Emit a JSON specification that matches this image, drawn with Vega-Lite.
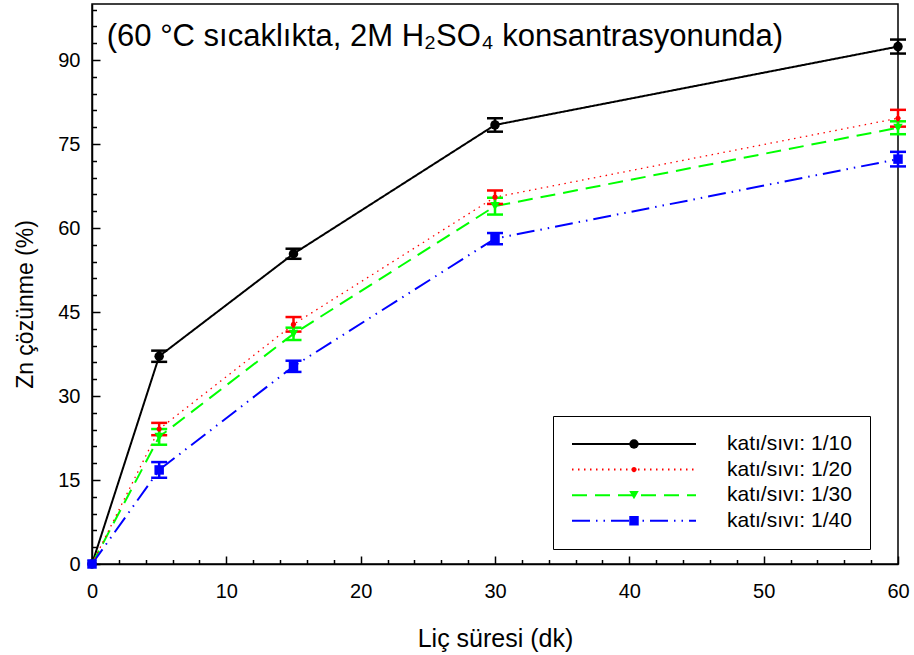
{
  "$schema": "https://vega.github.io/schema/vega-lite/v6.json",
  "width": 806,
  "height": 560,
  "autosize": {"type": "none"},
  "padding": {"left": 92, "top": 4, "right": 16, "bottom": 91},
  "background": "white",
  "config": {
    "font": "Liberation Sans",
    "view": {"stroke": "black", "strokeWidth": 1.5},
    "axis": {"grid": false, "domainColor": "black", "domainWidth": 1.5, "tickColor": "black", "tickWidth": 1.5, "labelColor": "black", "titleColor": "black", "labelFontSize": 20, "titleFontWeight": "normal", "labelOverlap": false, "labelFlush": false}
  },
  "datasets": {
    "zn": [
      {"series": "1/10", "x": 0, "y": 0, "err": 0},
      {"series": "1/10", "x": 5, "y": 37.1, "err": 1.0},
      {"series": "1/10", "x": 15, "y": 55.4, "err": 0.9},
      {"series": "1/10", "x": 30, "y": 78.4, "err": 1.2},
      {"series": "1/10", "x": 60, "y": 92.4, "err": 1.25},
      {"series": "1/20", "x": 0, "y": 0, "err": 0},
      {"series": "1/20", "x": 5, "y": 24.1, "err": 1.1},
      {"series": "1/20", "x": 15, "y": 42.8, "err": 1.3},
      {"series": "1/20", "x": 30, "y": 65.5, "err": 1.2},
      {"series": "1/20", "x": 60, "y": 79.6, "err": 1.5},
      {"series": "1/30", "x": 0, "y": 0, "err": 0},
      {"series": "1/30", "x": 5, "y": 22.7, "err": 1.4},
      {"series": "1/30", "x": 15, "y": 41.1, "err": 1.1},
      {"series": "1/30", "x": 30, "y": 63.9, "err": 1.5},
      {"series": "1/30", "x": 60, "y": 77.9, "err": 1.15},
      {"series": "1/40", "x": 0, "y": 0, "err": 0},
      {"series": "1/40", "x": 5, "y": 16.8, "err": 1.4},
      {"series": "1/40", "x": 15, "y": 35.3, "err": 1.0},
      {"series": "1/40", "x": 30, "y": 58.1, "err": 1.0},
      {"series": "1/40", "x": 60, "y": 72.3, "err": 1.3}
    ]
  },
  "encoding": {
    "x": {
      "field": "x", "type": "quantitative",
      "scale": {"domain": [0, 60], "nice": false},
      "axis": {
        "values": [0,2,4,6,8,10,12,14,16,18,20,22,24,26,28,30,32,34,36,38,40,42,44,46,48,50,52,54,56,58,60],
        "labelExpr": "datum.value % 10 === 0 ? datum.label : ''",
        "tickSize": {"condition": {"test": "datum.value % 10 === 0", "value": -8}, "value": -4.5},
        "labelPadding": 25,
        "title": "Liç süresi (dk)",
        "titleFontSize": 25,
        "titleY": 82,
        "titleBaseline": "alphabetic"
      }
    },
    "y": {
      "field": "y", "type": "quantitative",
      "scale": {"domain": [0, 100], "nice": false},
      "axis": {
        "values": [0,3,6,9,12,15,18,21,24,27,30,33,36,39,42,45,48,51,54,57,60,63,66,69,72,75,78,81,84,87,90,93,96,99],
        "labelExpr": "datum.value % 15 === 0 ? datum.label : ''",
        "tickSize": {"condition": {"test": "datum.value % 15 === 0", "value": -8}, "value": -4.5},
        "labelPadding": 20,
        "title": "Zn çözünme (%)",
        "titleFontSize": 23,
        "titleX": -60,
        "titleY": 300,
        "titleBaseline": "alphabetic",
        "titleAlign": "center"
      }
    }
  },
  "layer": [
    {
      "data": {"name": "zn"},
      "transform": [{"filter": "datum.series !== '1/20'"}],
      "mark": {"type": "line", "strokeWidth": 2},
      "encoding": {
        "color": {
          "field": "series", "type": "nominal",
          "scale": {"domain": ["1/10", "1/20", "1/30", "1/40"], "range": ["#000000", "#ff0000", "#00ff00", "#0000ff"]},
          "legend": {
            "title": null,
            "orient": "none",
            "legendX": 461,
            "legendY": 412,
            "zindex": 0,
            "padding": 18,
            "strokeColor": "black",
            "fillColor": "white",
            "symbolType": "stroke",
            "symbolSize": 15376,
            "symbolStrokeWidth": 2,
            "clipHeight": 20,
            "rowPadding": 4.6,
            "labelOffset": 30,
            "labelFontSize": 21,
            "labelFont": "Liberation Sans",
            "labelColor": "black",
            "labelLimit": 300,
            "labelExpr": "'katı/sıvı: ' + datum.label",
            "encode": {
              "symbols": {
                "update": {
                  "stroke": {"value": {"expr": "scale('color', datum.value)"}},
                  "fill": {"value": "transparent"},
                  "opacity": {"value": 1}
                }
              }
            }
          }
        },
        "strokeDash": {"field": "series", "type": "nominal", "scale": {"domain": ["1/10", "1/20", "1/30", "1/40"], "range": [[1, 0], [1.5, 4.5], [15, 8], [18, 6, 1.5, 6, 1.5, 6]]}}
      }
    },
    {
      "data": {"name": "zn"},
      "transform": [{"filter": "datum.series === '1/20'"}],
      "mark": {"type": "line", "strokeWidth": 1.3},
      "encoding": {
        "color": {"field": "series", "type": "nominal"},
        "strokeDash": {"field": "series", "type": "nominal"}
      }
    },
    {
      "data": {"name": "zn"},
      "transform": [{"filter": "datum.x > 0"}],
      "mark": {"type": "errorbar", "ticks": {"opacity": 1}, "rule": {"opacity": 1}, "opacity": 1, "size": 16, "thickness": 2.5},
      "encoding": {
        "yError": {"field": "err"},
        "color": {"field": "series", "type": "nominal"}
      }
    },
    {
      "data": {"name": "zn"},
      "mark": {"type": "point", "filled": true, "size": 90, "opacity": 1, "strokeWidth": 0},
      "encoding": {
        "fill": {
          "field": "series", "type": "nominal",
          "scale": {"range": ["#000000", "#ff0000", "#00ff00", "#0000ff"]},
          "legend": {
            "title": null,
            "orient": "none",
            "legendX": 513.5,
            "legendY": 412,
            "zindex": 1,
            "padding": 18,
            "strokeColor": "transparent",
            "fillColor": "transparent",
            "symbolSize": 90,
            "symbolStrokeWidth": 0,
            "clipHeight": 20,
            "rowPadding": 4.6,
            "labelFontSize": 21,
            "labelExpr": "''"
          }
        },
        "shape": {
          "field": "series", "type": "nominal",
          "scale": {"range": ["circle", "M-0.55,0 A0.55,0.55 0 1 0 0.55,0 A0.55,0.55 0 1 0 -0.55,0 Z", "triangle-down", "square"]},
          "legend": {
            "title": null,
            "orient": "none",
            "legendX": 513.5,
            "legendY": 412,
            "zindex": 1,
            "padding": 18,
            "strokeColor": "transparent",
            "fillColor": "transparent",
            "symbolSize": 90,
            "symbolStrokeWidth": 0,
            "clipHeight": 20,
            "rowPadding": 4.6,
            "labelFontSize": 21,
            "labelExpr": "''"
          }
        }
      }
    },
    {
      "data": {"name": "zn"},
      "transform": [{"filter": "datum.x === 0 && datum.series === '1/10'"}],
      "mark": {"type": "text", "align": "left", "baseline": "alphabetic", "fontSize": 31, "font": "Liberation Sans", "fill": "black"},
      "encoding": {
        "x": {"datum": 1.1, "type": "quantitative"},
        "y": {"datum": 92.5, "type": "quantitative"},
        "text": {"value": "(60 °C sıcaklıkta, 2M H₂SO₄ konsantrasyonunda)"}
      }
    }
  ]
}
